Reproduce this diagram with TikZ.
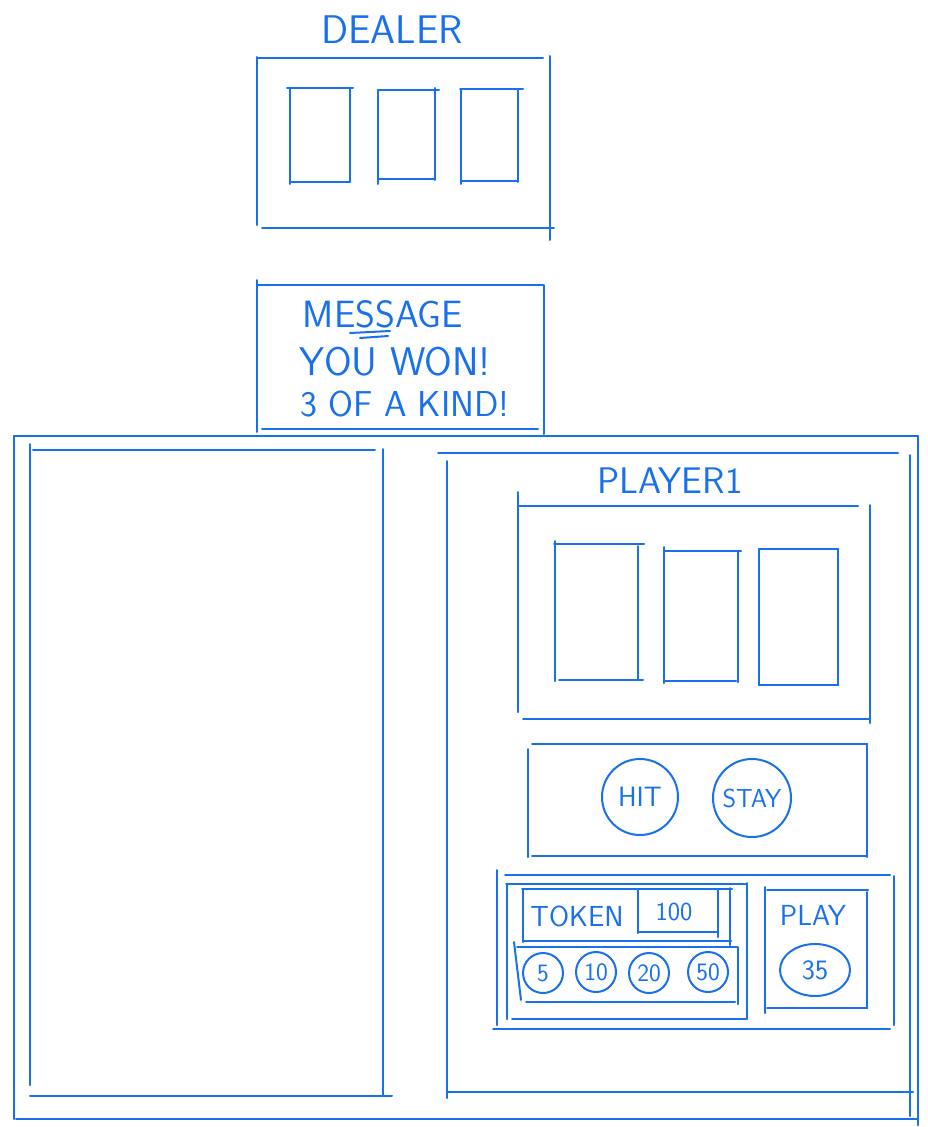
\documentclass[tikz,border=0pt]{standalone}
\usepackage{xcolor}
\usepackage{tikz}
\definecolor{sketch}{RGB}{24,112,236}

\begin{document}
\begin{tikzpicture}[x=1pt,y=-1pt,
  pen/.style={draw=sketch,line width=2pt,line cap=round},
  word/.style={text=sketch,inner sep=0pt,font=\sffamily\fontsize{#1}{#1}\selectfont},
  word/.default=28,
  button/.style={circle,pen,minimum size=#1,inner sep=0pt},
  chip/.style={circle,pen,minimum size=40,inner sep=0pt,text=sketch,font=\sffamily\fontsize{25}{25}\selectfont}]
\useasboundingbox(0,0)rectangle(927,1127);

\node[word=40](dealer)at(392,30){DEALER};
\draw[pen](257,58)--(543,58);
\draw[pen](257,57)--(257,225);
\draw[pen](550,56)--(550,240);
\draw[pen](262,228)--(554,228);

\draw[pen](287,88)--(353,88);
\draw[pen](290,88)--(290,184);
\draw[pen](350,88)--(350,182);
\draw[pen](290,182)--(350,182);

\draw[pen](378,90)--(439,90);
\draw[pen](378,90)--(378,184);
\draw[pen](435,88)--(435,180);
\draw[pen](379,179)--(435,179);

\draw[pen](460,89)--(523,89);
\draw[pen](461,89)--(461,184);
\draw[pen](518,89)--(518,182);
\draw[pen](461,181)--(518,181);

\draw[pen](257,285)--(543,285);
\draw[pen](257,280)--(257,432);
\draw[pen](544,285)--(544,434);
\draw[pen](262,429)--(538,429);
\node[word=38](msg)at(383,314){MESSAGE};
\draw[pen](350,333)--(390,331);
\draw[pen](360,338)--(388,336);
\node[word=40](won)at(395,362){YOU WON!};
\node[word=36](kind)at(405,404){3 OF A KIND!};

\draw[pen](14,436)--(918,436);
\draw[pen](14,436)--(14,1119);
\draw[pen](16,1119)--(918,1119);
\draw[pen](918,437)--(918,1125);

\draw[pen](33,450)--(375,450);
\draw[pen](30,444)--(30,1085);
\draw[pen](383,449)--(383,1096);
\draw[pen](30,1096)--(392,1096);

\draw[pen](438,453)--(898,453);
\draw[pen](447,461)--(447,1098);
\draw[pen](910,455)--(910,1116);
\draw[pen](447,1092)--(913,1092);

\node[word=37](player)at(670,481){PLAYER1};
\draw[pen](518,506)--(858,506);
\draw[pen](518,492)--(518,712);
\draw[pen](870,505)--(870,723);
\draw[pen](523,719)--(870,719);

\draw[pen](554,544)--(644,544);
\draw[pen](555,541)--(555,681);
\draw[pen](638,546)--(638,680);
\draw[pen](559,680)--(643,680);

\draw[pen](664,551)--(741,551);
\draw[pen](664,547)--(664,683);
\draw[pen](738,551)--(738,682);
\draw[pen](665,681)--(736,681);

\draw[pen](759,549)--(838,549);
\draw[pen](759,549)--(759,685);
\draw[pen](838,549)--(838,685);
\draw[pen](759,685)--(838,685);

\draw[pen](532,744)--(867,744);
\draw[pen](528,749)--(528,857);
\draw[pen](867,744)--(867,857);
\draw[pen](532,856)--(867,856);
\node[button=76,word=28](hit)at(640,797){HIT};
\node[button=78,word=26](stay)at(752,798){STAY};

\draw[pen](505,875)--(890,875);
\draw[pen](497,870)--(497,1025);
\draw[pen](894,876)--(894,1025);
\draw[pen](493,1029)--(890,1029);

\draw[pen](506,884)--(747,884);
\draw[pen](507,884)--(507,1019);
\draw[pen](747,883)--(747,1018);
\draw[pen](512,1019)--(747,1019);

\draw[pen](522,889)--(732,889);
\draw[pen](523,889)--(523,942);
\draw[pen](523,941)--(731,941);
\draw[pen](730,888)--(730,945);
\draw[pen](638,890)--(638,933);
\draw[pen](718,890)--(718,937);
\draw[pen](638,932)--(718,932);
\node[word=29](token)at(577,916){TOKEN};
\node[word=26](amount)at(674,912){100};

\draw[pen](517,947)--(737,947);
\draw[pen](514,942)--(521,1000);
\draw[pen](738,947)--(738,1004);
\draw[pen](526,1002)--(735,1002);
\node[chip](c5)at(543,973){5};
\node[chip](c10)at(596,972){10};
\node[chip](c20)at(649,973){20};
\node[chip](c50)at(708,972){50};

\draw[pen](767,890)--(868,890);
\draw[pen](765,887)--(765,1013);
\draw[pen](867,892)--(867,1008);
\draw[pen](767,1008)--(867,1008);
\node[word=29](play)at(813,915){PLAY};
\draw[pen](815,970)ellipse(35 and 26);
\node[word=28](bet)at(815,970){35};

\end{tikzpicture}
\end{document}
